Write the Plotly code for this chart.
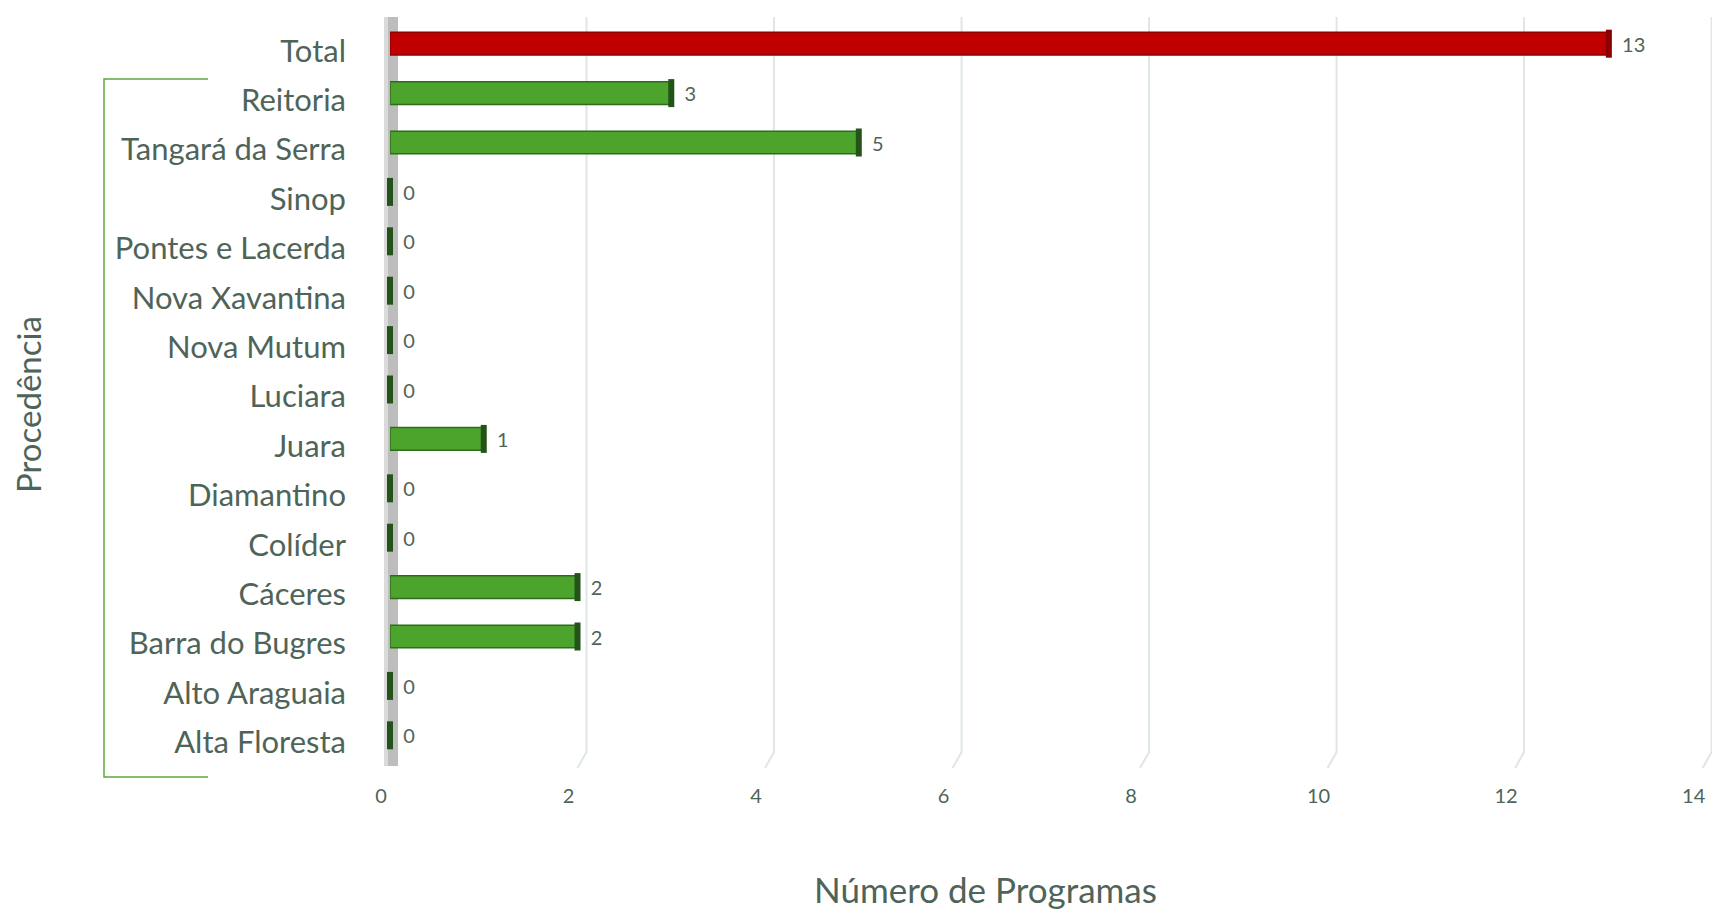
import plotly.graph_objects as go

categories = ["Total", "Reitoria", "Tangará da Serra", "Sinop", "Pontes e Lacerda",
              "Nova Xavantina", "Nova Mutum", "Luciara", "Juara", "Diamantino",
              "Colíder", "Cáceres", "Barra do Bugres", "Alto Araguaia", "Alta Floresta"]
values = [13, 3, 5, 0, 0, 0, 0, 0, 1, 0, 0, 2, 2, 0, 0]
x_ticks = [0, 2, 4, 6, 8, 10, 12, 14]

W, H = 1715, 912
L, R, T, B = 390, 3, 19, 152
X_MAX = 14.1

face = ["#c00000" if c == "Total" else "#4ca42c" for c in categories]
edge = ["#8f0000" if c == "Total" else "#2f6b1c" for c in categories]
cap = ["#8a0000" if c == "Total" else "#24531a" for c in categories]
txt = "#4f6459"
font = "Lato"

fig = go.Figure()
fig.add_trace(go.Bar(
    y=categories, x=values, orientation="h",
    marker=dict(color=face, line=dict(color=edge, width=1.5)),
    width=0.46,
    text=["  " + str(v) for v in values], textposition="outside",
    constraintext="none",
    textfont=dict(family=font, size=20, color=txt),
    cliponaxis=False, hoverinfo="x+y",
))
# dark end cap (3D side face) at the end of each bar
fig.add_trace(go.Scatter(
    y=categories, x=values, mode="markers",
    marker=dict(symbol="line-ns", size=20, line=dict(width=6, color=cap)),
    hoverinfo="skip", cliponaxis=False,
))

def px_x(p):
    return (p - L) / (W - L - R)

def px_y(p):
    return 1 - (p - T) / (H - T - B)

unit_px = (W - L - R) / X_MAX
dx = 9 / unit_px  # 3D depth offset of the back wall gridlines

shapes = []
# gridlines with a slanted foot (3D floor)
for v in x_ticks[1:]:
    shapes.append(dict(
        type="path", xref="x", yref="paper", layer="below",
        path=f"M {v + dx},{px_y(17)} L {v + dx},{px_y(752)} L {v},{px_y(768)}",
        line=dict(color="#dfe6e6", width=2)))
shapes += [
    # side wall
    dict(type="rect", xref="paper", yref="paper", x0=px_x(384), x1=px_x(398),
         y0=px_y(766), y1=px_y(17), fillcolor="#bdbdbd", line=dict(width=0), layer="below"),
    dict(type="rect", xref="paper", yref="paper", x0=px_x(384), x1=px_x(388),
         y0=px_y(766), y1=px_y(17), fillcolor="#dadada", line=dict(width=0), layer="below"),
    # bracket
    dict(type="path", xref="paper", yref="paper",
         path=f"M {px_x(208)},{px_y(79)} L {px_x(104)},{px_y(79)} L {px_x(104)},{px_y(777)} L {px_x(208)},{px_y(777)}",
         line=dict(color="#5ca83c", width=1.5)),
]

annotations = [
    dict(text="Número de Programas", xref="paper", yref="paper", x=px_x(985), y=px_y(889),
         showarrow=False, font=dict(family=font, size=35, color=txt), xanchor="center", yanchor="middle"),
    dict(text="Procedência", xref="paper", yref="paper", x=px_x(28), y=px_y(405),
         showarrow=False, textangle=-90, font=dict(family=font, size=33, color=txt),
         xanchor="center", yanchor="middle"),
]

fig.update_layout(
    width=W, height=H,
    margin=dict(l=L, r=R, t=T, b=B, autoexpand=False),
    paper_bgcolor="white", plot_bgcolor="white",
    showlegend=False, bargap=0.5,
    shapes=shapes, annotations=annotations,
    xaxis=dict(range=[0, X_MAX], tickvals=x_ticks, ticktext=[str(v) for v in x_ticks],
               showgrid=False, zeroline=False,
               showline=False, ticks="", tickfont=dict(family=font, size=20, color=txt),
               ticklabelstandoff=22, ticklabelshift=-9),
    yaxis=dict(range=[14.5, -0.5], showgrid=False, zeroline=False, showline=False,
               ticks="", tickfont=dict(family=font, size=31, color=txt),
               ticklabelstandoff=43, ticklabelshift=-7),
)

fig.write_html("out.html", config={"displayModeBar": False},
               post_script="document.body.style.margin='0';")
